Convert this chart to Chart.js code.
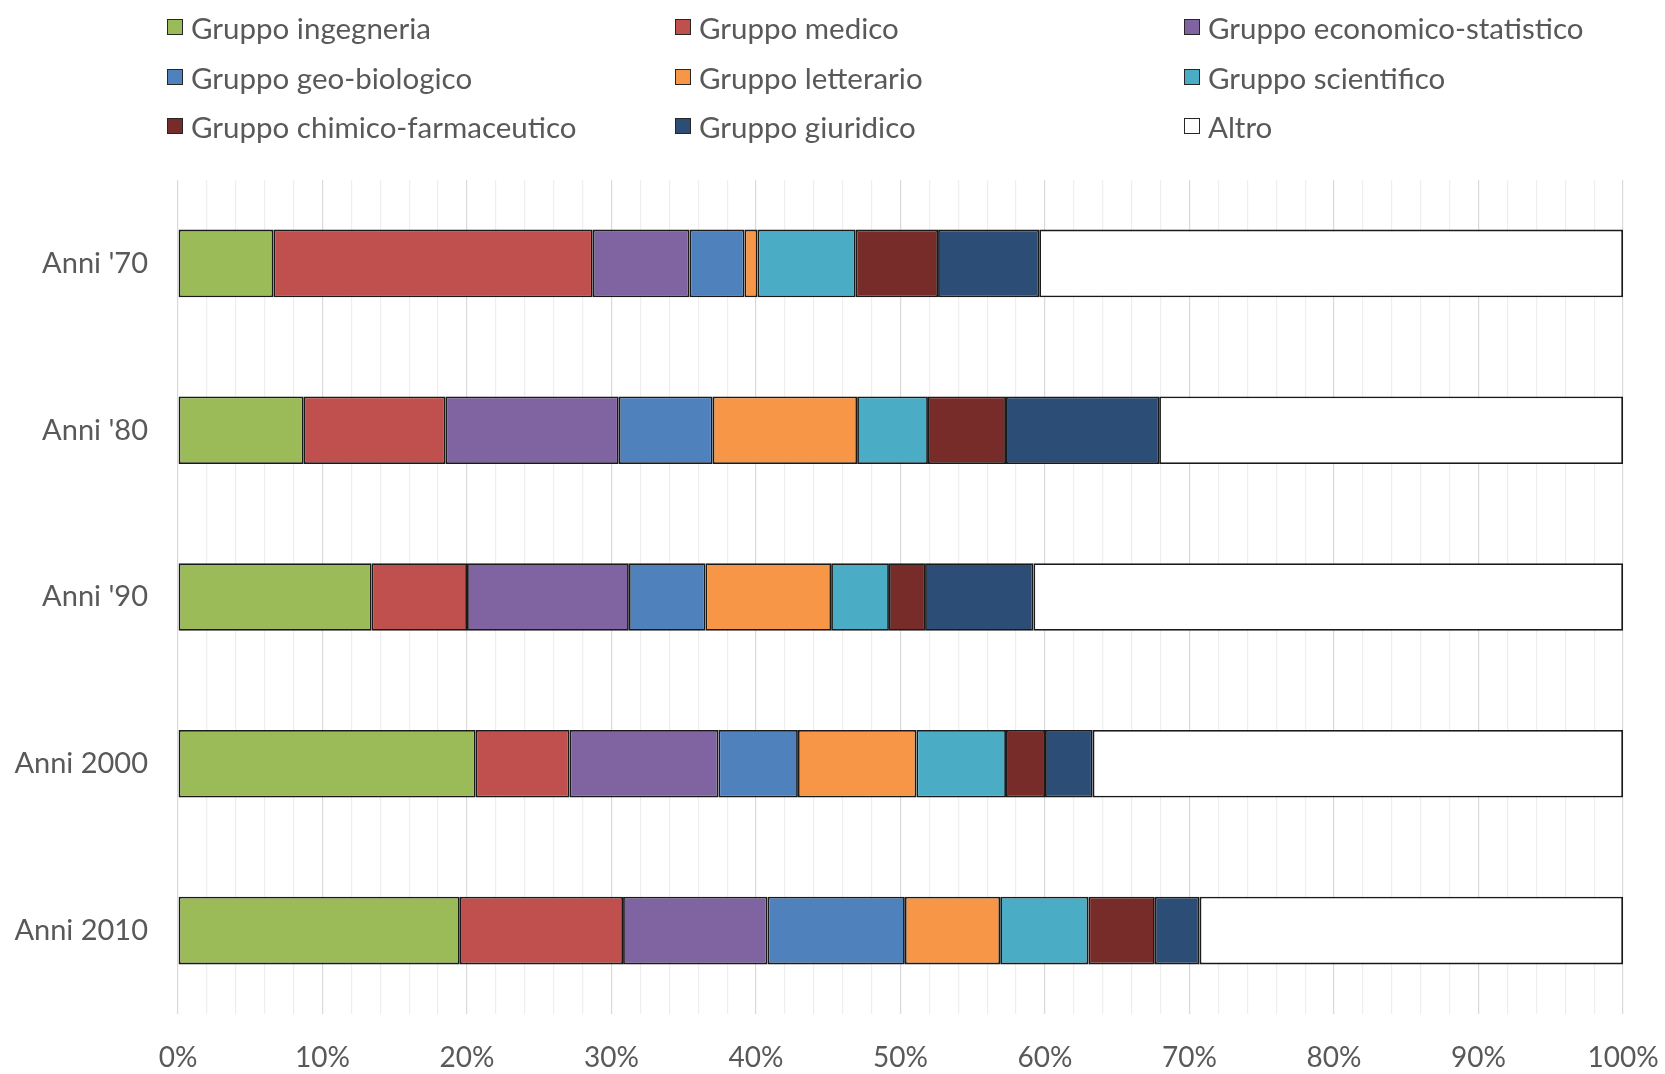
<!DOCTYPE html>
<html>
<head>
<meta charset="utf-8">
<script src="https://cdn.jsdelivr.net/npm/chart.js@4.4.1/dist/chart.umd.min.js"></script>
<style>
  html, body { margin: 0; padding: 0; background: #fff; }
  #wrap { position: relative; width: 1665px; height: 1074px; }
  #chart { position: absolute; left: 0; top: 0; }
  #legend { position: absolute; left: 0; top: 0; width: 1665px; height: 160px; font-family: Lato, "Open Sans", sans-serif; font-size: 29.5px; color: #595959; }
  .item { position: absolute; display: flex; align-items: center; height: 34px; white-space: nowrap; }
  .box { width: 16px; height: 16px; border: 1.5px solid #262626; margin-right: 8px; box-sizing: border-box; }
</style>
</head>
<body>
<div id="wrap">
  <canvas id="chart" width="1665" height="1074"></canvas>
  <div id="legend"></div>
</div>
<script>
// Data
const categories = ["Anni '70", "Anni '80", "Anni '90", "Anni 2000", "Anni 2010"];
const groupNames = ['Gruppo ingegneria', 'Gruppo medico', 'Gruppo economico-statistico',
  'Gruppo geo-biologico', 'Gruppo letterario', 'Gruppo scientifico',
  'Gruppo chimico-farmaceutico', 'Gruppo giuridico', 'Altro'];
const ingegneria  = [6.6, 8.7, 13.4, 20.6, 19.5];
const medico      = [22.1, 9.8, 6.6, 6.5, 11.3];
const economico   = [6.7, 12.0, 11.2, 10.3, 10.0];
const geoBio      = [3.8, 6.5, 5.3, 5.5, 9.5];
const letterario  = [0.9, 10.0, 8.7, 8.2, 6.6];
const scientifico = [6.8, 4.9, 4.0, 6.2, 6.1];
const chimico     = [5.7, 5.4, 2.5, 2.7, 4.6];
const giuridico   = [7.0, 10.6, 7.5, 3.3, 3.1];
const altro       = [40.4, 32.1, 40.8, 36.7, 29.3];
const colors = ['#9BBB59', '#C0504D', '#8064A2', '#4F81BD', '#F79646', '#4BACC6', '#772C2A', '#2C4D75', '#FFFFFF'];

const series = [ingegneria, medico, economico, geoBio, letterario, scientifico, chimico, giuridico, altro];
const font = 'Lato, "Open Sans", sans-serif';
const textColor = '#595959';

const chart = new Chart(document.getElementById('chart'), {
  type: 'bar',
  data: {
    labels: categories,
    datasets: series.map((d, i) => ({
      label: groupNames[i],
      data: d,
      backgroundColor: colors[i],
      borderColor: '#1a1a1a',
      borderWidth: 1.8,
      borderSkipped: false,
      categoryPercentage: 1,
      barPercentage: 0.405
    }))
  },
  options: {
    indexAxis: 'y',
    responsive: false,
    animation: false,
    layout: { padding: { top: 180, right: 42, bottom: 0, left: 0 } },
    plugins: { legend: { display: false }, tooltip: { enabled: false } },
    scales: {
      x: {
        stacked: true, min: 0, max: 100,
        afterFit: s => { s.height = 60; s.paddingLeft = 0; s.paddingRight = 0; },
        border: { display: false },
        grid: {
          drawTicks: false,
          color: c => (c.tick && c.tick.value % 10 === 0) ? '#D9D9D9' : '#EEEEEE',
          lineWidth: 1.2
        },
        ticks: {
          stepSize: 2, autoSkip: false, maxRotation: 0, padding: 27,
          color: textColor, font: { family: font, size: 28 },
          callback: v => v % 10 === 0 ? v + '%' : ''
        }
      },
      y: {
        stacked: true,
        afterFit: s => { s.width = 178; },
        border: { display: false },
        grid: { display: false },
        ticks: { color: textColor, padding: 22, font: { family: font, size: 29 } }
      }
    }
  }
});

// Legend (3 columns, row-major)
const colX = [167, 675, 1184];
const rowY = [27, 77, 126];
const legendEl = document.getElementById('legend');
chart.data.datasets.forEach((ds, i) => {
  const item = document.createElement('div');
  item.className = 'item';
  item.style.left = colX[i % 3] + 'px';
  item.style.top = (rowY[Math.floor(i / 3)] - 17) + 'px';
  item.innerHTML = `<span class="box" style="background:${ds.backgroundColor}"></span><span>${ds.label}</span>`;
  legendEl.appendChild(item);
});
</script>
</body>
</html>
